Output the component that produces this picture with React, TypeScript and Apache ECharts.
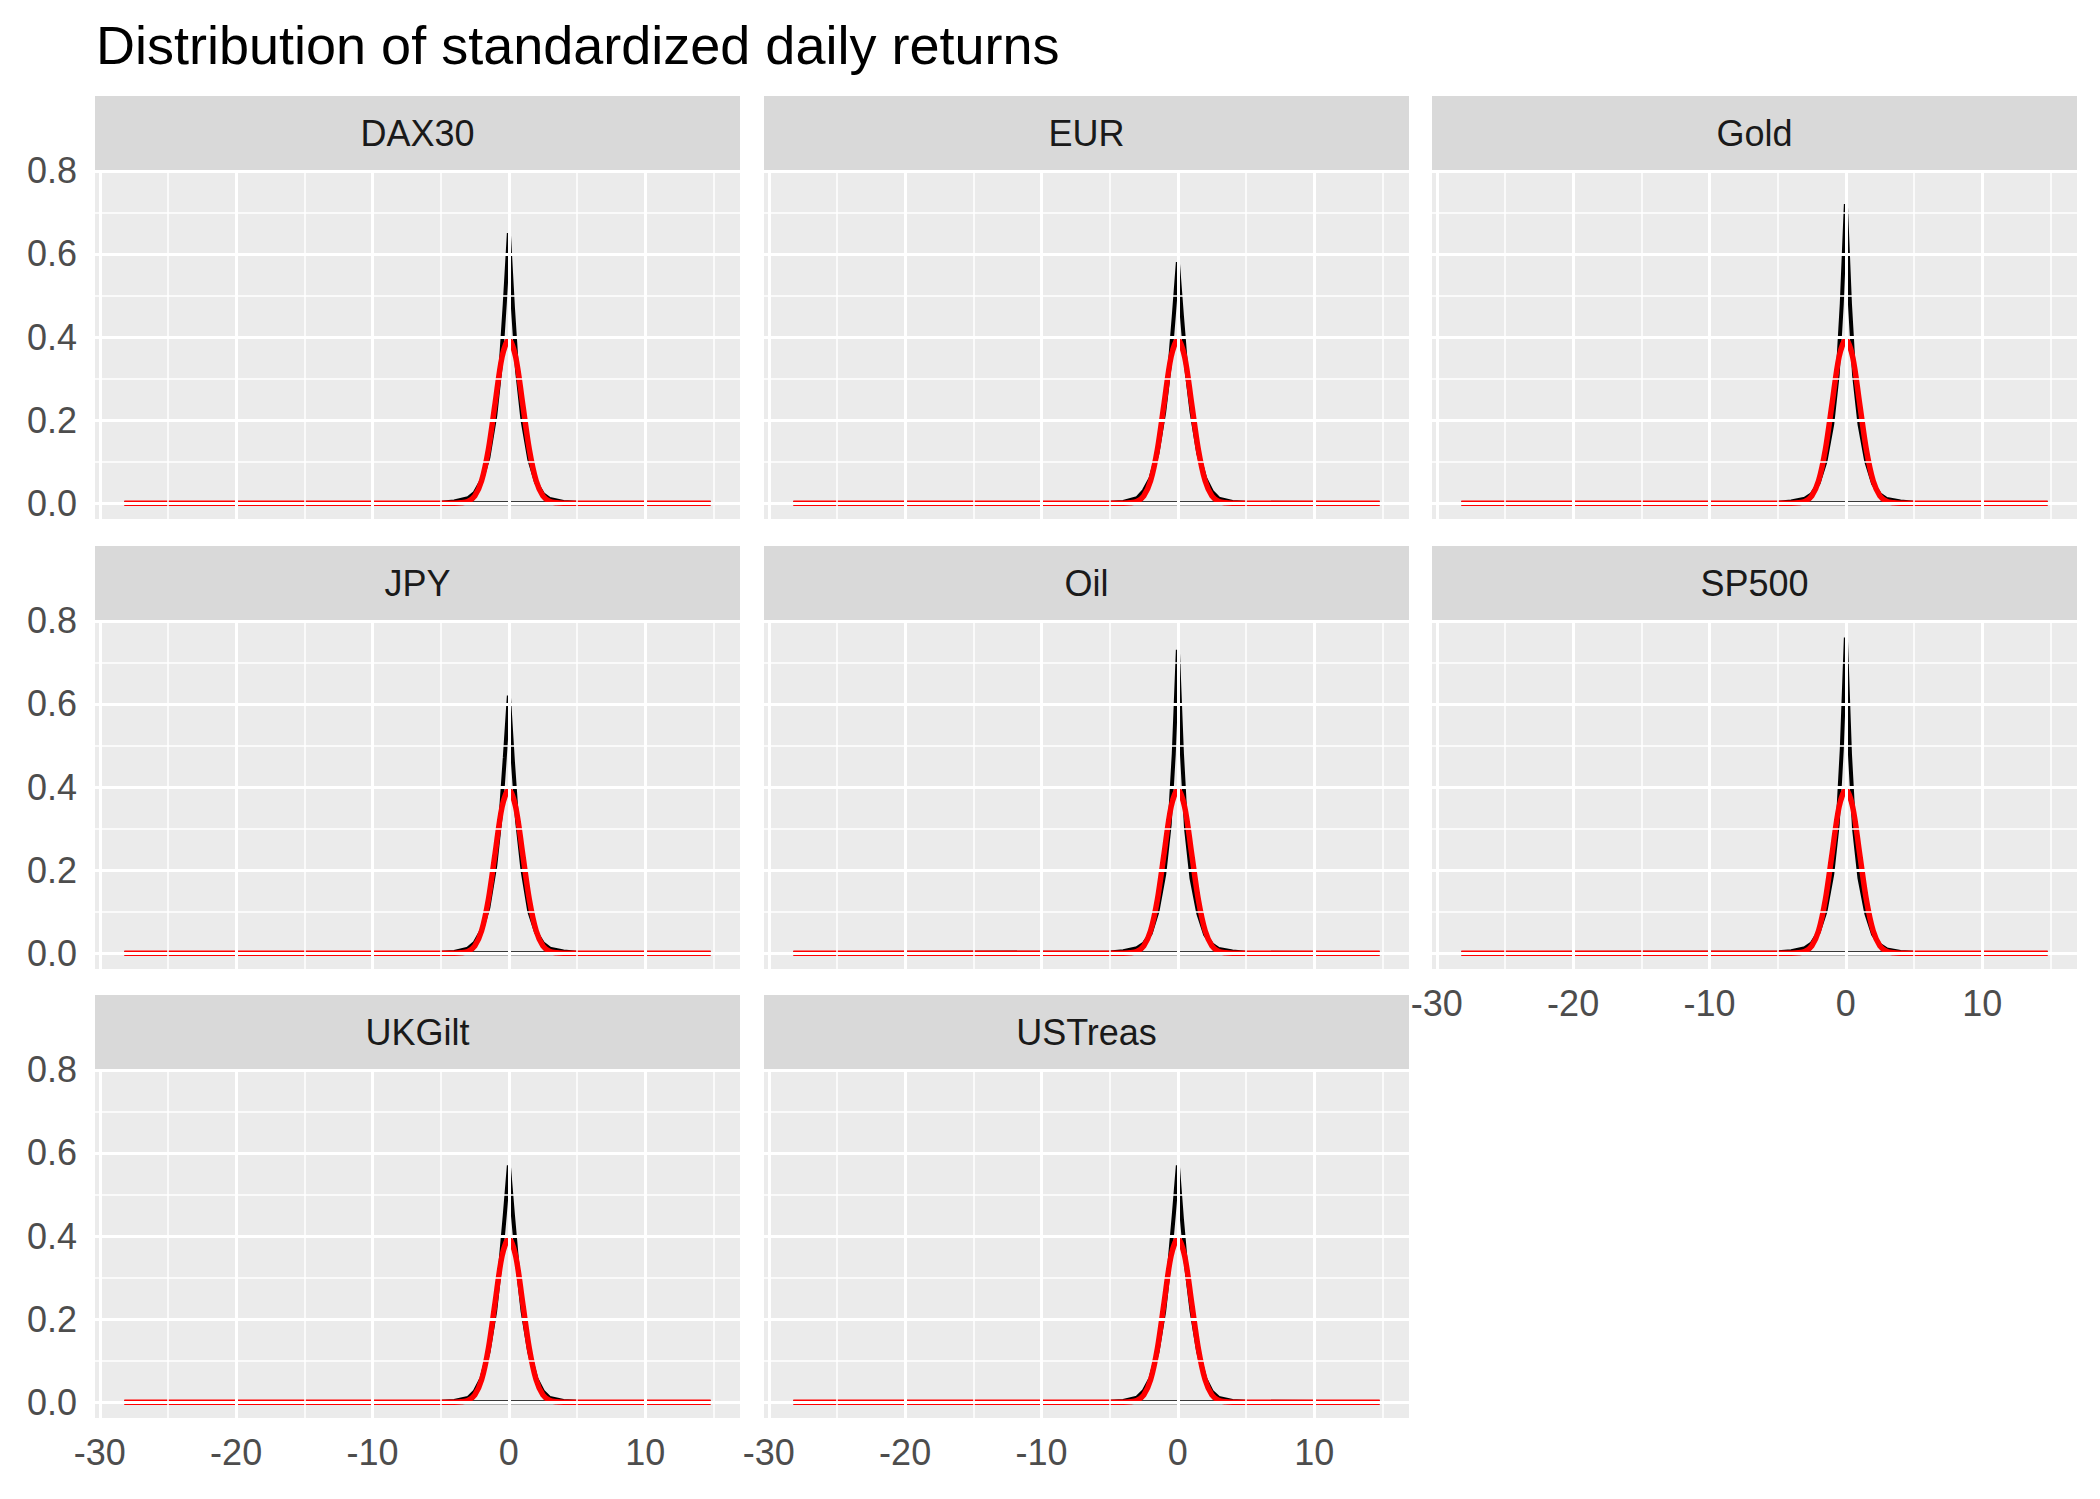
import React, { useEffect, useRef } from "react";
import * as echarts from "echarts";

const title = "Distribution of standardized daily returns";
const assets = ["DAX30", "EUR", "Gold", "JPY", "Oil", "SP500", "UKGilt", "USTreas"];

const empX = [-28.2, -5, -4, -3, -2.5, -2, -1.5, -1, -0.6, -0.3, 0, 0.3, 0.6, 1, 1.5, 2, 2.5, 3, 4, 5, 14.8];
const empDAX30 = [0, 0.001, 0.004, 0.012, 0.025, 0.055, 0.11, 0.21, 0.33, 0.48, 0.65, 0.47, 0.32, 0.2, 0.105, 0.05, 0.022, 0.01, 0.003, 0.001, 0];
const empEUR = [0, 0.001, 0.003, 0.012, 0.03, 0.06, 0.12, 0.22, 0.33, 0.45, 0.58, 0.45, 0.33, 0.22, 0.12, 0.06, 0.028, 0.011, 0.003, 0.001, 0];
const empGold = [0, 0.001, 0.004, 0.011, 0.022, 0.048, 0.1, 0.19, 0.31, 0.48, 0.72, 0.48, 0.31, 0.19, 0.1, 0.047, 0.021, 0.01, 0.004, 0.001, 0];
const empJPY = [0, 0.001, 0.003, 0.011, 0.025, 0.055, 0.11, 0.21, 0.33, 0.47, 0.62, 0.46, 0.32, 0.2, 0.1, 0.05, 0.024, 0.011, 0.004, 0.001, 0];
const empOil = [0, 0.002, 0.005, 0.012, 0.023, 0.047, 0.1, 0.19, 0.31, 0.48, 0.73, 0.48, 0.3, 0.18, 0.095, 0.045, 0.021, 0.01, 0.004, 0.001, 0];
const empSP500 = [0, 0.002, 0.005, 0.012, 0.024, 0.05, 0.1, 0.19, 0.31, 0.49, 0.76, 0.48, 0.3, 0.18, 0.095, 0.045, 0.02, 0.009, 0.003, 0.001, 0];
const empUKGilt = [0, 0.001, 0.003, 0.01, 0.026, 0.058, 0.12, 0.22, 0.34, 0.45, 0.57, 0.45, 0.34, 0.22, 0.12, 0.058, 0.026, 0.01, 0.003, 0.001, 0];
const empUSTreas = [0, 0.001, 0.003, 0.011, 0.027, 0.058, 0.12, 0.22, 0.34, 0.45, 0.57, 0.44, 0.33, 0.22, 0.12, 0.057, 0.025, 0.01, 0.003, 0.001, 0];
const empY = [empDAX30, empEUR, empGold, empJPY, empOil, empSP500, empUKGilt, empUSTreas];

const normX = [-28.2, -4, -3.5, -3, -2.5, -2, -1.5, -1, -0.5, 0, 0.5, 1, 1.5, 2, 2.5, 3, 3.5, 4, 14.8];
const normY = [0, 0.0001, 0.0009, 0.0044, 0.0175, 0.054, 0.1295, 0.242, 0.352, 0.394, 0.352, 0.242, 0.1295, 0.054, 0.0175, 0.0044, 0.0009, 0.0001, 0];

const xTicks = [-30, -20, -10, 0, 10];
const xMinor = [-25, -15, -5, 5, 15];
const yTicks = [0, 0.2, 0.4, 0.6, 0.8];
const yMinor = [0.1, 0.3, 0.5, 0.7];

const X_MIN = -30.35, X_MAX = 16.95, Y_MIN = -0.038, Y_MAX = 0.802;
const colLeft = [95, 764, 1432];
const rowTop = [170, 620, 1069];
const PW = 645, PH = 349, SH = 74;

export default function App() {
  const ref = useRef<HTMLDivElement>(null);
  useEffect(() => {
    document.body.style.margin = "0";
    const chart = echarts.init(ref.current!, undefined, { renderer: "svg" });
    const grids: any[] = [], xAxes: any[] = [], yAxes: any[] = [], series: any[] = [], graphics: any[] = [];
    const axisText = { color: "#4D4D4D", fontSize: 36, fontFamily: "Liberation Sans, Arial, sans-serif" };
    assets.forEach((name, i) => {
      const r = Math.floor(i / 3), c = i % 3;
      const left = colLeft[c], top = rowTop[r];
      const showX = r === 2 || i === 5;
      const showY = c === 0;
      grids.push({ left, top, width: PW, height: PH, show: true, backgroundColor: "#EBEBEB", borderWidth: 0 });
      xAxes.push({
        gridIndex: i, type: "value", min: X_MIN, max: X_MAX,
        axisLine: { show: false }, splitLine: { show: false },
        axisTick: { show: showX, customValues: xTicks, length: 11, lineStyle: { color: "#333333", width: 2.5 } },
        axisLabel: { show: showX, customValues: xTicks, margin: 16, ...axisText },
      });
      yAxes.push({
        gridIndex: i, type: "value", min: Y_MIN, max: Y_MAX,
        axisLine: { show: false }, splitLine: { show: false },
        axisTick: { show: showY, customValues: yTicks, length: 11, lineStyle: { color: "#333333", width: 2.5 } },
        axisLabel: { show: showY, customValues: yTicks, margin: 18, formatter: (v: number) => v.toFixed(1), ...axisText },
      });
      const ml = (vals: number[], key: string, w: number) =>
        vals.map((v) => ({ [key]: v, lineStyle: { color: "#FFFFFF", width: w, type: "solid" } }));
      series.push({
        type: "line", xAxisIndex: i, yAxisIndex: i, data: [], z: 1, silent: true,
        markLine: {
          silent: true, symbol: ["none", "none"], label: { show: false }, animation: false,
          data: [...ml(xMinor, "xAxis", 1.5), ...ml(yMinor, "yAxis", 1.5), ...ml(xTicks, "xAxis", 3), ...ml(yTicks, "yAxis", 3)],
        },
      });
      const emp = empX.map((x, k) => [x, empY[i][k]]);
      emp.push([empX[0], 0]);
      series.push({
        type: "line", xAxisIndex: i, yAxisIndex: i, data: emp, z: 3, symbol: "none", silent: true,
        lineStyle: { color: "#000000", width: 4 },
      });
      series.push({
        type: "line", xAxisIndex: i, yAxisIndex: i, data: normX.map((x, k) => [x, normY[k]]), z: 4, symbol: "none",
        smooth: 0.3, silent: true, lineStyle: { color: "#FF0000", width: 5.5 },
      });
      graphics.push({ type: "rect", shape: { x: left, y: top - SH, width: PW, height: SH }, style: { fill: "#D9D9D9" } });
      graphics.push({
        type: "text", x: left + PW / 2, y: top - SH / 2,
        style: { text: name, fill: "#1A1A1A", fontSize: 36, fontFamily: "Liberation Sans, Arial, sans-serif", align: "center", verticalAlign: "middle" },
      });
    });
    graphics.push({
      type: "text", x: 96, y: 45,
      style: { text: title, fill: "#000000", fontSize: 54, fontFamily: "Liberation Sans, Arial, sans-serif", verticalAlign: "middle" },
    });
    chart.setOption({ animation: false, grid: grids, xAxis: xAxes, yAxis: yAxes, series, graphic: graphics });
    return () => chart.dispose();
  }, []);
  return <div ref={ref} style={{ width: 2100, height: 1499, background: "#fff" }} />;
}
